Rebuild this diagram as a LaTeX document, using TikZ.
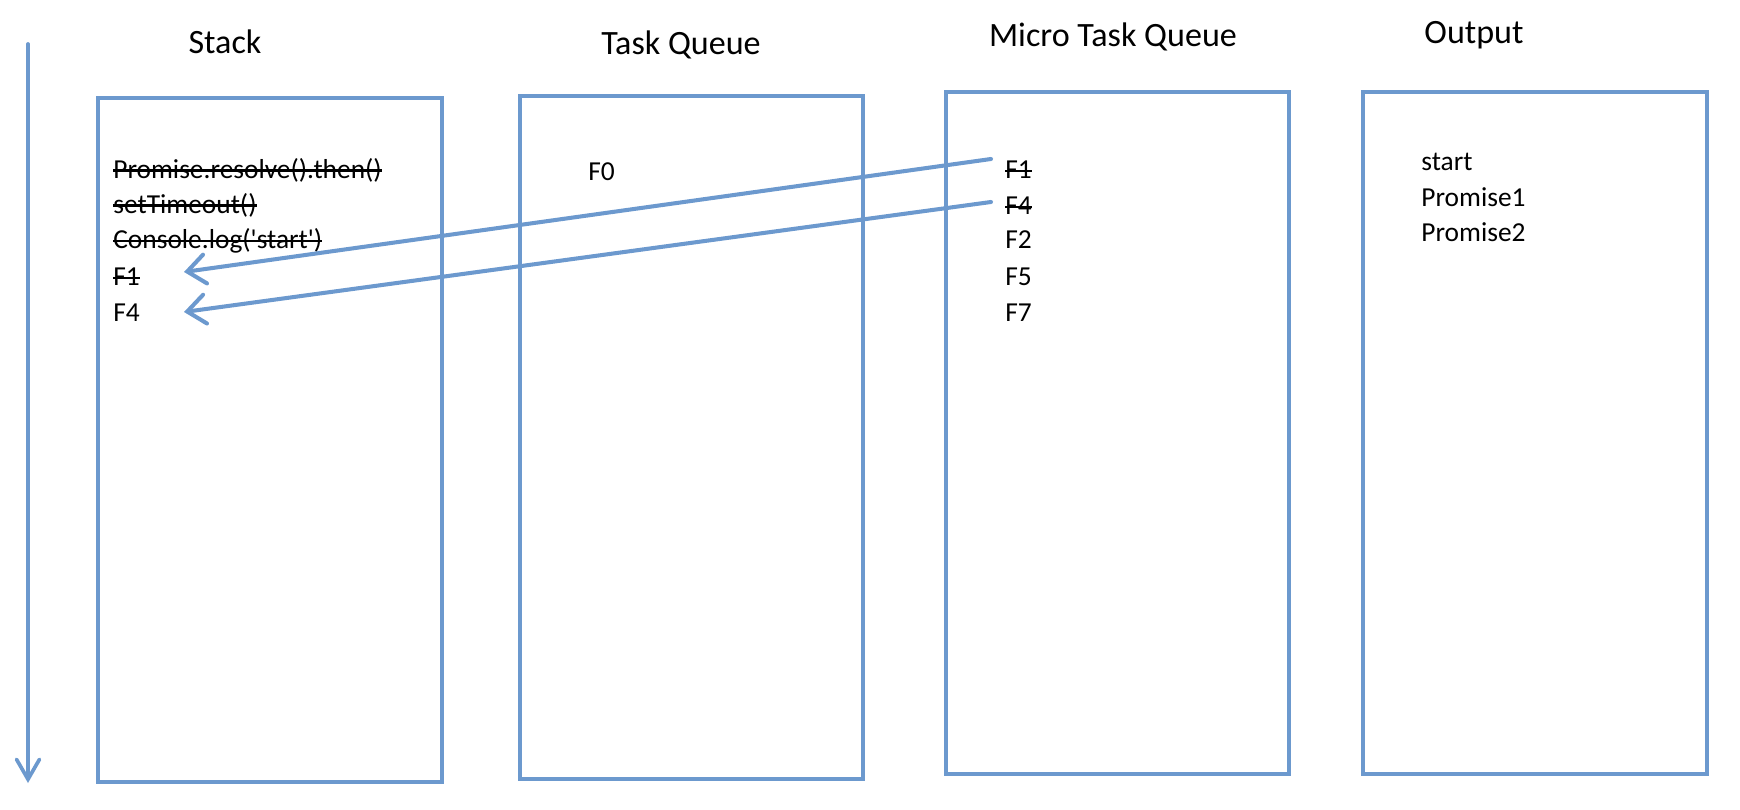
\documentclass[tikz,border=0pt]{standalone}
\usepackage{fontspec}
\setmainfont{Carlito}[Ligatures=TeXOff]
\usepackage{tikz}
\usetikzlibrary{positioning,calc,arrows.meta}
\definecolor{laneblue}{RGB}{108,153,206}
\newlength{\strikewd}
\newcommand{\strike}[1]{\settowidth{\strikewd}{#1}\rlap{\rule[0.24em]{\strikewd}{1.2pt}}#1}
\begin{document}
\begin{tikzpicture}[x=0.02cm,y=-0.02cm,
    lane/.style={draw=laneblue, line width=2.1pt},
    title/.style={inner sep=0pt, font=\fontsize{19.4}{23}\selectfont},
    entry/.style={anchor=west, inner sep=0pt, font=\fontsize{15.6}{18}\selectfont},
    flow/.style={draw=laneblue, line width=2.3pt, line cap=round,
        -{Straight Barb[length=0.36cm, width=0.58cm, line cap=round]}}]
    \useasboundingbox (0,0) rectangle (1740,810);

    % Time line
    \coordinate (tstart) at (28,44);
    \coordinate (tend) at (28,783);
    \draw[lane, line cap=round, -{Straight Barb[length=0.40cm, width=0.46cm, line cap=round]}] (tstart) -- (tend);

    % Titles
    \node[title] (tStack) at (225,42) {Stack};
    \node[title] (tTask) at (681,45) {Task Queue};
    \node[title] (tMicro) at (1113,37) {Micro Task Queue};
    \node[title] (tOut) at (1474,35) {Output};

    % Boxes
    \draw[lane] (98,98) rectangle (442,782);
    \draw[lane] (520,96) rectangle (863,779);
    \draw[lane] (946,92) rectangle (1289,774);
    \draw[lane] (1363,92) rectangle (1707,774);

    % Stack
    \node[entry] (sProm) at (113,170) {\strike{Promise.resolve().then()}};
    \node[entry] (sTime) at (113,205) {\strike{setTimeout()}};
    \node[entry] (sLog) at (113,241) {\strike{Console.log('start')}};
    \node[entry] (sF1) at (113,277) {\strike{F1}};
    \node[entry] (sF4) at (113,313) {F4};

    % Task queue
    \node[entry] (qF0) at (588,172) {F0};

    % Micro task queue
    \node[entry] (mF1) at (1005,170) {\strike{F1}};
    \node[entry] (mF4) at (1005,206) {\strike{F4}};
    \node[entry] (mF2) at (1005,240) {F2};
    \node[entry] (mF5) at (1005,277) {F5};
    \node[entry] (mF7) at (1005,313) {F7};

    % Output
    \node[entry] (oStart) at (1421,162) {start};
    \node[entry] (oP1) at (1421,197) {Promise1};
    \node[entry] (oP2) at (1421,232) {Promise2};

    % Micro tasks back onto the stack
    \draw[flow] ($(mF1.west)+(-14,-11)$) -- ($(sF1.west)+(71,-5)$);
    \draw[flow] ($(mF4.west)+(-14,-4)$) -- ($(sF4.west)+(71,-1)$);
\end{tikzpicture}
\end{document}
